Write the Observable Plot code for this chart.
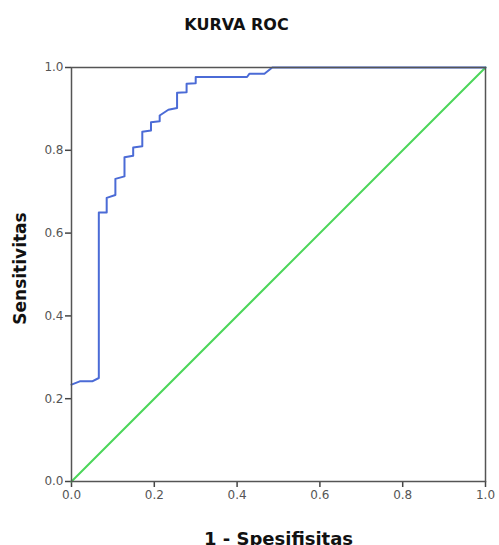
<!DOCTYPE html>
<html>
<head>
<meta charset="utf-8">
<script src="https://cdn.jsdelivr.net/npm/d3@7"></script>
<script src="https://cdn.jsdelivr.net/npm/@observablehq/plot@0.6"></script>
<style>
  html, body { margin: 0; padding: 0; background: #fff; overflow: hidden; }
</style>
</head>
<body>
<div id="chart"></div>
<script>
const title = "KURVA ROC";
const xLabel = "1 - Spesifisitas";
const yLabel = "Sensitivitas";
const ticks = [0, 0.2, 0.4, 0.6, 0.8, 1.0];

const fpr = [0, 0.02, 0.05, 0.066, 0.066, 0.085, 0.085, 0.106, 0.106, 0.128, 0.128, 0.149, 0.149, 0.171, 0.171, 0.192, 0.192, 0.213, 0.213, 0.234, 0.255, 0.255, 0.278, 0.278, 0.300, 0.300, 0.424, 0.430, 0.466, 0.485, 1.0];
const tpr = [0.234, 0.242, 0.242, 0.250, 0.650, 0.650, 0.685, 0.692, 0.731, 0.737, 0.783, 0.787, 0.807, 0.810, 0.845, 0.848, 0.868, 0.870, 0.884, 0.898, 0.902, 0.939, 0.940, 0.961, 0.962, 0.977, 0.977, 0.985, 0.985, 1.0, 1.0];
const refX = [0, 1];
const refY = [0, 1];

const roc = fpr.map((x, i) => ({x, y: tpr[i]}));
const ref = refX.map((x, i) => ({x, y: refY[i]}));

const chart = Plot.plot({
  width: 499,
  height: 545,
  marginLeft: 71,
  marginRight: 14,
  marginTop: 67,
  marginBottom: 64,
  style: {fontFamily: "'DejaVu Sans', sans-serif", background: "#fff"},
  x: {domain: [0, 1], ticks: ticks, tickFormat: d3.format(".1f"), tickSize: 6, tickPadding: 3, label: null},
  y: {domain: [0, 1], ticks: ticks, tickFormat: d3.format(".1f"), tickSize: 6, tickPadding: 2, label: null},
  marks: [
    Plot.axisX({ticks: ticks, tickFormat: d3.format(".1f"), tickSize: 6, tickPadding: 3, fontSize: 12, color: "#555", stroke: "#444", strokeWidth: 1.5, label: null}),
    Plot.axisY({ticks: ticks, tickFormat: d3.format(".1f"), tickSize: 6, tickPadding: 2, fontSize: 12, color: "#555", stroke: "#444", strokeWidth: 1.5, label: null}),
    Plot.line(ref, {x: "x", y: "y", stroke: "#4cd65a", strokeWidth: 2}),
    Plot.line(roc, {x: "x", y: "y", stroke: "#4b6bd6", strokeWidth: 2}),
    Plot.frame({stroke: "#555", strokeWidth: 1.5}),
    Plot.text([title], {frameAnchor: "top", lineAnchor: "top", dx: -42, dy: -49, text: d => d, fontSize: 16, fontWeight: "bold", fill: "#111"}),
    Plot.text([xLabel], {frameAnchor: "bottom", lineAnchor: "bottom", dy: 63, text: d => d, fontSize: 18, fontWeight: "bold", fill: "#111"}),
    Plot.text([yLabel], {frameAnchor: "left", textAnchor: "middle", lineAnchor: "middle", dx: -51, dy: -6, rotate: -90, text: d => d, fontSize: 17, fontWeight: "bold", fill: "#111"})
  ]
});
document.getElementById("chart").appendChild(chart);
</script>
</body>
</html>
